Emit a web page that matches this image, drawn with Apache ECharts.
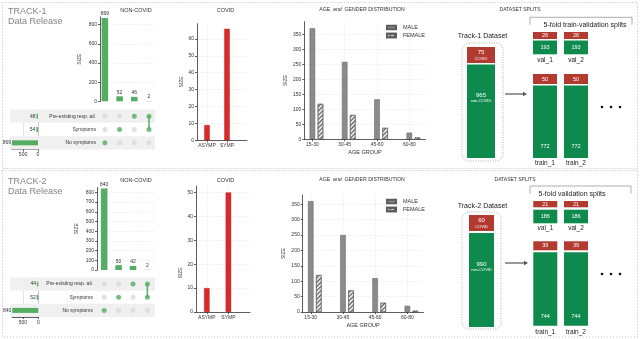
<!DOCTYPE html>
<html><head><meta charset="utf-8">
<script src="https://cdn.jsdelivr.net/npm/echarts@6/dist/echarts.min.js"></script>
<style>html,body{margin:0;padding:0;background:#fff}#c{width:640px;height:339px}</style>
</head><body><div id="c"></div>
<script>
// ================= DATA =================
const rowLabels = ['No symptoms', 'Symptoms', 'Pre-existing resp. ail.']; // bottom -> top
const comboRows = [[0], [1], [2], [1, 2]];          // rows included in each intersection
const t1Upset = [869, 52, 46, 2];
const t2Upset = [840, 50, 42, 2];
const t1RowTotals = [869, 54, 48];
const t2RowTotals = [840, 52, 44];
const t1UpsetTicks = [0, 200, 400, 600, 800];
const t2UpsetTicks = [0, 100, 200, 300, 400, 500, 600, 700, 800];
const leftBarTicks = [0, 500];

const covidCats = ['ASYMP', 'SYMP'];
const t1Covid = [9, 66];
const t2Covid = [10, 50];
const t1CovidTicks = [0, 10, 20, 30, 40, 50, 60];
const t2CovidTicks = [0, 10, 20, 30, 40, 50];

const ageGroups = ['15-30', '30-45', '45-60', '60-80'];
const t1Male = [370, 258, 133, 22];
const t1Female = [118, 81, 38, 6];
const t2Male = [360, 250, 110, 20];
const t2Female = [120, 70, 30, 4];
const ageTicks = [0, 50, 100, 150, 200, 250, 300, 350];

const dsCovid = [75, 60];
const dsNonCovid = [965, 990];
const valCovid = [26, 21];
const valNonCovid = [193, 186];
const trainCovid = [50, 39];
const trainNonCovid = [772, 744];
const splitSubtitles = ['5-fold train-validation splits', '5-fold validation splits'];

// ================= LAYOUT =================
const FONT = 'Liberation Sans, Arial, sans-serif';
const GREEN_UP = '#55ad63', GRAY_DOT = '#dadada', RED = '#d8292b';
const D_RED = '#b23a2f', D_GREEN = '#0e8a4c';
const AX = '#333';

const layout = [
  { trackY: 7,
    up: { left: 100, step: 4.9, n: 12, idx: [1, 4, 7, 10], top: 17.0, zero: 101.3, max: 880, ticks: t1UpsetTicks, data: t1Upset },
    mat: { top: 109.5, h: 40 }, lb: { left: 11.8, w: 26.2, max: 875, totals: t1RowTotals },
    covid: { left: 197, step: 10, n: 6, idx: [1, 3], top: 23.7, zero: 140.3, max: 69, ticks: t1CovidTicks, data: t1Covid, namePad: 0 },
    age: { left: 304.3, step: 8.08, n: 16, top: 21.7, zero: 139.3, max: 392, male: t1Male, female: t1Female },
    legendTop: 24.5, titleY: 7.5,
    sp: { titleX: 520, titleY: 7.5, bracketY: 17.3, bx: [530, 632], drop: 7.5, subX: 585, subY: 25,
          dsY: 36, box: [462, 43, 41, 118], bar: [467, 28], red: [47, 63], green: [64.5, 158],
          valX: [533, 564], valW: 24, valRed: [32, 39], valGreen: [40.5, 54.3], valLabelY: 60,
          trainRed: [74, 84], trainGreen: [85.5, 158], trainNumY: 146, trainLabelY: 163,
          arrowY: 94, arrowX: [505, 527], dotsY: 107 } },
  { trackY: 177,
    up: { left: 97, step: 3.6, n: 17, idx: [2, 6, 10, 14], top: 187.5, zero: 270, max: 850, ticks: t2UpsetTicks, data: t2Upset },
    mat: { top: 277.5, h: 39.5 }, lb: { left: 12, w: 26.3, max: 850, totals: t2RowTotals },
    covid: { left: 196, step: 10.8, n: 6, idx: [1, 3], top: 186, zero: 312, max: 52.7, ticks: t2CovidTicks, data: t2Covid, namePad: 48 },
    age: { left: 302.7, step: 8.05, n: 16, top: 195, zero: 312, max: 380, male: t2Male, female: t2Female },
    legendTop: 198.5, titleY: 177.5,
    sp: { titleX: 515, titleY: 177.5, bracketY: 186, bx: [530, 631], drop: 7.5, subX: 572, subY: 194,
          dsY: 206, box: [462, 212, 39, 117], bar: [469, 25], red: [215, 231], green: [233, 327],
          valX: [533.3, 564], valW: 24, valRed: [201, 207.3], valGreen: [209.7, 223.3], valLabelY: 228,
          trainRed: [241.3, 250.3], trainGreen: [252.3, 325.7], trainNumY: 316, trainLabelY: 332,
          arrowY: 263, arrowX: [505, 528], dotsY: 274 } }
];

const grids = [], xAxes = [], yAxes = [], series = [], titles = [], legends = [], graphics = [];

function addGrid(left, top, width, height) {
  grids.push({ left, top, width, height, containLabel: false, outerBoundsMode: 'none' });
  return grids.length - 1;
}
function catAxis(gridIndex, n, posIdx, names, extra) {
  const data = []; for (let i = 0; i < n; i++) data.push('c' + i);
  const at = {}; posIdx.forEach((p, i) => { at[p] = names[i]; });
  const on = (i) => at[i] !== undefined;
  return Object.assign({
    type: 'category', gridIndex, data, boundaryGap: false,
    axisLine: { show: true, lineStyle: { color: AX, width: 0.8 } },
    axisTick: { show: true, length: 2, interval: (i) => on(i), lineStyle: { color: AX, width: 0.8 } },
    axisLabel: { show: true, interval: (i) => on(i), formatter: (v, i) => at[i] || '', fontSize: 5, color: AX, margin: 3, fontFamily: FONT },
    splitLine: { show: true, interval: (i) => on(i), lineStyle: { color: '#d8d8d8', type: [1, 1.5], width: 0.6 } }
  }, extra || {});
}
function valAxis(gridIndex, max, ticks, extra) {
  return Object.assign({
    type: 'value', gridIndex, min: 0, max, interval: ticks[1] - ticks[0],
    axisLine: { show: true, lineStyle: { color: AX, width: 0.8 } },
    axisTick: { show: true, length: 2, lineStyle: { color: AX, width: 0.8 } },
    axisLabel: { fontSize: 5, color: AX, margin: 3, showMaxLabel: false, fontFamily: FONT },
    splitLine: { show: true, showMaxLine: false, showMinLine: false, lineStyle: { color: '#d8d8d8', type: [1, 1.5], width: 0.6 } }
  }, extra || {});
}
function spread(n, idx, vals) {
  const a = new Array(n).fill('-'); idx.forEach((p, i) => { a[p] = vals[i]; }); return a;
}

layout.forEach((T, t) => {
  // ---------- panel border ----------
  graphics.push({ type: 'rect', silent: true, z: -10,
    shape: { x: 2.5, y: t === 0 ? 2.5 : 170.5, width: 635, height: t === 0 ? 166 : 166.5 },
    style: { fill: null, stroke: '#aaa', lineWidth: 0.8, lineDash: [1, 2] } });
  titles.push({ text: 'TRACK-' + (t + 1) + '\nData Release', left: 8, top: T.trackY, padding: 0,
    textStyle: { fontSize: 9, lineHeight: 9.5, color: '#858585', fontWeight: 'normal', fontFamily: FONT } });

  // ---------- UpSet: intersection bars ----------
  const U = T.up;
  const uw = U.step * (U.n - 1);
  let g = addGrid(U.left, U.top, uw, U.zero - U.top);
  xAxes.push(catAxis(g, U.n, U.idx, ['', '', '', ''], { axisTick: { show: false }, axisLabel: { show: false }, axisLine: { show: false },
    splitLine: { show: false } }));
  yAxes.push(valAxis(g, U.max, U.ticks, { name: 'SIZE', nameLocation: 'middle', nameGap: 18,
    nameTextStyle: { fontSize: 5, color: AX, fontFamily: FONT } }));
  series.push({ type: 'bar', xAxisIndex: xAxes.length - 1, yAxisIndex: yAxes.length - 1,
    data: spread(U.n, U.idx, U.data), barWidth: 6.5, barGap: '-100%',
    itemStyle: { color: GREEN_UP },
    label: { show: true, position: 'top', distance: 1.5, fontSize: 5, color: AX, fontFamily: FONT } });
  titles.push({ text: 'NON-COVID', left: 136, top: T.titleY, textAlign: 'center', padding: 0,
    textStyle: { fontSize: 5.5, color: '#333', fontWeight: 'normal', fontFamily: FONT } });

  // ---------- row shading (alternate row bands) ----------
  const M = T.mat;
  g = addGrid(10, M.top, 145, M.h);
  xAxes.push({ type: 'value', gridIndex: g, show: false, min: 0, max: 1 });
  yAxes.push({ type: 'category', gridIndex: g, show: false, data: rowLabels, boundaryGap: true });
  series.push({ type: 'bar', xAxisIndex: xAxes.length - 1, yAxisIndex: yAxes.length - 1, z: 0,
    data: rowLabels.map((_, i) => (i % 2 === 0 ? 1 : '-')), barWidth: '100%', itemStyle: { color: '#f0f0f0' } });

  // ---------- matrix ----------
  g = addGrid(U.left, M.top, uw, M.h);
  xAxes.push({ type: 'category', gridIndex: g, show: false, boundaryGap: false, data: Array.from({ length: U.n }, (_, i) => 'c' + i) });
  yAxes.push({ type: 'category', gridIndex: g, data: rowLabels, boundaryGap: true,
    axisLine: { show: false }, axisTick: { show: false }, splitLine: { show: false },
    axisLabel: { interval: 0, fontSize: 5, color: AX, margin: 4, fontFamily: FONT } });
  const xi = xAxes.length - 1, yi = yAxes.length - 1;
  const inactive = [], active = [];
  comboRows.forEach((rows, c) => {
    for (let r = 0; r < rowLabels.length; r++) {
      (rows.indexOf(r) >= 0 ? active : inactive).push([U.idx[c], r]);
    }
  });
  series.push({ type: 'scatter', xAxisIndex: xi, yAxisIndex: yi, data: inactive, symbolSize: 5, itemStyle: { color: GRAY_DOT }, z: 3 });
  comboRows.forEach((rows, c) => {
    if (rows.length > 1) {
      series.push({ type: 'line', xAxisIndex: xi, yAxisIndex: yi, data: rows.map(r => [U.idx[c], r]),
        symbol: 'none', lineStyle: { color: GREEN_UP, width: 1.5 }, z: 3 });
    }
  });
  series.push({ type: 'scatter', xAxisIndex: xi, yAxisIndex: yi, data: active, symbolSize: 5, itemStyle: { color: GREEN_UP }, z: 4 });

  // ---------- left set-size bars ----------
  const B = T.lb;
  g = addGrid(B.left, M.top, B.w, M.h);
  xAxes.push({ type: 'value', gridIndex: g, min: 0, max: B.max, interval: leftBarTicks[1] - leftBarTicks[0], inverse: true,
    axisLine: { show: true, onZero: false, lineStyle: { color: AX, width: 0.8 } },
    axisTick: { show: true, length: 2, lineStyle: { color: AX, width: 0.8 } },
    axisLabel: { fontSize: 5, color: AX, margin: 3, showMaxLabel: false, fontFamily: FONT },
    splitLine: { show: true, showMaxLine: false, showMinLine: false, lineStyle: { color: '#d0d0d0', width: 0.6 } } });
  yAxes.push({ type: 'category', gridIndex: g, data: rowLabels, boundaryGap: true,
    axisLine: { show: true, lineStyle: { color: '#bbb', width: 0.8 } }, axisTick: { show: false }, axisLabel: { show: false } });
  series.push({ type: 'bar', xAxisIndex: xAxes.length - 1, yAxisIndex: yAxes.length - 1, data: B.totals, barWidth: 5,
    itemStyle: { color: GREEN_UP }, z: 3,
    label: { show: true, position: 'left', distance: 1, fontSize: 5, color: AX, fontFamily: FONT } });

  // ---------- COVID ----------
  const C = T.covid;
  g = addGrid(C.left, C.top, C.step * (C.n - 1), C.zero - C.top);
  xAxes.push(catAxis(g, C.n, C.idx, covidCats));
  yAxes.push(valAxis(g, C.max, C.ticks, { name: 'SIZE', nameLocation: 'middle', nameGap: 11.5,
    nameTextStyle: { fontSize: 5, color: AX, fontFamily: FONT, padding: [0, C.namePad, 0, 0] } }));
  series.push({ type: 'bar', xAxisIndex: xAxes.length - 1, yAxisIndex: yAxes.length - 1,
    data: spread(C.n, C.idx, C.data), barWidth: 5.5, barGap: '-100%',
    itemStyle: { color: RED, borderColor: '#b01e20', borderWidth: 0.4 } });
  titles.push({ text: 'COVID', left: 225.5, top: T.titleY, textAlign: 'center', padding: 0,
    textStyle: { fontSize: 5.5, color: '#333', fontWeight: 'normal', fontFamily: FONT } });

  // ---------- AGE & GENDER ----------
  const A = T.age;
  const mIdx = ageGroups.map((_, i) => 1 + 4 * i), fIdx = ageGroups.map((_, i) => 2 + 4 * i);
  g = addGrid(A.left, A.top, A.step * (A.n - 1), A.zero - A.top);
  xAxes.push(catAxis(g, A.n, mIdx, ageGroups, { name: 'AGE GROUP', nameLocation: 'middle', nameGap: 10,
    nameTextStyle: { fontSize: 5.5, color: AX, fontFamily: FONT } }));
  yAxes.push(valAxis(g, A.max, ageTicks, { name: 'SIZE', nameLocation: 'middle', nameGap: 16.5,
    nameTextStyle: { fontSize: 5, color: AX, fontFamily: FONT } }));
  series.push({ name: 'MALE', type: 'bar', xAxisIndex: xAxes.length - 1, yAxisIndex: yAxes.length - 1,
    data: spread(A.n, mIdx, A.male), barWidth: 5.5, barGap: '-100%',
    itemStyle: { color: '#8b8b8b', borderColor: '#5c5c5c', borderWidth: 0.5 } });
  series.push({ name: 'FEMALE', type: 'bar', xAxisIndex: xAxes.length - 1, yAxisIndex: yAxes.length - 1,
    data: spread(A.n, fIdx, A.female), barWidth: 5.5, barGap: '-100%',
    itemStyle: { color: '#e4e4e4', borderColor: '#5c5c5c', borderWidth: 0.5,
      decal: { symbol: 'rect', symbolSize: 1, color: '#555', dashArrayX: [1, 0], dashArrayY: [1, 1.6], rotation: -Math.PI / 4 } } });
  titles.push({ text: 'AGE  {i|and}  GENDER DISTRIBUTION', left: 362, top: T.titleY, textAlign: 'center', padding: 0,
    textStyle: { fontSize: 5.2, color: '#333', fontWeight: 'normal', fontFamily: FONT,
      rich: { i: { fontStyle: 'italic', fontSize: 5.2, color: '#333', fontFamily: FONT } } } });
  legends.push({ left: 386, top: T.legendTop, orient: 'vertical', itemWidth: 9, itemHeight: 3.5, itemGap: 2, padding: 0,
    selectedMode: false, icon: 'rect', data: ['MALE', 'FEMALE'],
    textStyle: { fontSize: 5.5, color: AX, fontFamily: FONT, padding: [0, 0, 0, 2] } });

  // ---------- DATASET SPLITS (schematic diagram) ----------
  const S = T.sp;
  const txt = (text, x, y, size, fill) => graphics.push({ type: 'text', silent: true, x, y,
    style: { text, fill, font: size + 'px ' + FONT, align: 'center', verticalAlign: 'middle' } });
  const rect = (x, y, w, h, fill) => graphics.push({ type: 'rect', silent: true, shape: { x, y, width: w, height: h }, style: { fill } });
  titles.push({ text: 'DATASET SPLITS', left: S.titleX, top: S.titleY, textAlign: 'center', padding: 0,
    textStyle: { fontSize: 5, color: '#333', fontWeight: 'normal', fontFamily: FONT } });
  graphics.push({ type: 'polyline', silent: true, shape: { points: [[S.bx[0], S.bracketY + S.drop], [S.bx[0], S.bracketY], [S.bx[1], S.bracketY], [S.bx[1], S.bracketY + S.drop]] },
    style: { fill: null, stroke: '#999', lineWidth: 0.8 } });
  txt(splitSubtitles[t], S.subX, S.subY, 7, '#222');
  txt('Track-' + (t + 1) + ' Dataset', 482.5, S.dsY, 7, '#222');
  graphics.push({ type: 'rect', silent: true, shape: { x: S.box[0], y: S.box[1], width: S.box[2], height: S.box[3], r: 7 },
    style: { fill: null, stroke: '#999', lineWidth: 0.8, lineDash: [1, 1.5] } });
  rect(S.bar[0], S.red[0], S.bar[1], S.red[1] - S.red[0], D_RED);
  rect(S.bar[0], S.green[0], S.bar[1], S.green[1] - S.green[0], D_GREEN);
  const bx = S.bar[0] + S.bar[1] / 2;
  const rm = (S.red[0] + S.red[1]) / 2;
  txt(String(dsCovid[t]), bx, rm - 2.5, 6, '#fff');
  txt('COVID', bx, rm + 3.5, 4, '#fff');
  const gm = (S.green[0] + S.green[1]) / 2 - 16;
  txt(String(dsNonCovid[t]), bx, gm, 6, '#fff');
  txt('non-COVID', bx, gm + 6, 4, '#fff');
  graphics.push({ type: 'line', silent: true, shape: { x1: S.arrowX[0], y1: S.arrowY, x2: S.arrowX[1] - 3, y2: S.arrowY }, style: { stroke: '#555', lineWidth: 1.2 } });
  graphics.push({ type: 'polygon', silent: true, shape: { points: [[S.arrowX[1], S.arrowY], [S.arrowX[1] - 4, S.arrowY - 2.2], [S.arrowX[1] - 4, S.arrowY + 2.2]] }, style: { fill: '#555' } });
  S.valX.forEach((x, k) => {
    const cx = x + S.valW / 2;
    rect(x, S.valRed[0], S.valW, S.valRed[1] - S.valRed[0], D_RED);
    rect(x, S.valGreen[0], S.valW, S.valGreen[1] - S.valGreen[0], D_GREEN);
    txt(String(valCovid[t]), cx, (S.valRed[0] + S.valRed[1]) / 2, 5.5, '#fff');
    txt(String(valNonCovid[t]), cx, (S.valGreen[0] + S.valGreen[1]) / 2, 5.5, '#fff');
    txt('val_' + (k + 1), cx, S.valLabelY, 6.5, '#222');
    rect(x, S.trainRed[0], S.valW, S.trainRed[1] - S.trainRed[0], D_RED);
    rect(x, S.trainGreen[0], S.valW, S.trainGreen[1] - S.trainGreen[0], D_GREEN);
    txt(String(trainCovid[t]), cx, (S.trainRed[0] + S.trainRed[1]) / 2, 5.5, '#fff');
    txt(String(trainNonCovid[t]), cx, S.trainNumY, 5.5, '#fff');
    txt('train_' + (k + 1), cx, S.trainLabelY, 6.5, '#222');
  });
  [602, 611, 620].forEach(x => graphics.push({ type: 'circle', silent: true, shape: { cx: x, cy: S.dotsY, r: 1.3 }, style: { fill: '#111' } }));
});

const chart = echarts.init(document.getElementById('c'), null, { renderer: 'canvas' });
chart.setOption({
  animation: false,
  backgroundColor: '#fff',
  textStyle: { fontFamily: FONT },
  title: titles,
  legend: legends,
  grid: grids,
  xAxis: xAxes,
  yAxis: yAxes,
  series: series.map(s => Object.assign({ silent: true, animation: false }, s)),
  graphic: graphics
});
</script>
</body></html>
